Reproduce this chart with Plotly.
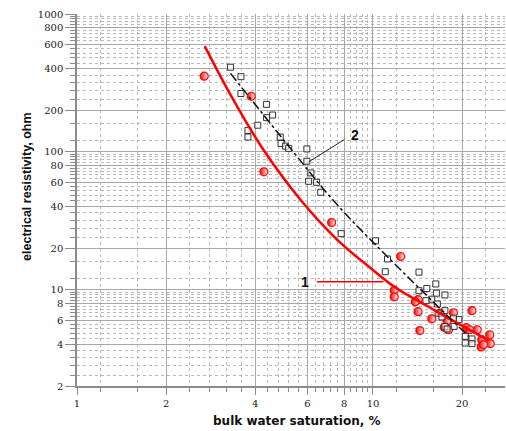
import math
import plotly.graph_objects as go

# Core samples, bulk water saturation (%) vs electrical resistivity (ohm)
sat_open = [3.30, 3.58, 3.58, 4.37, 4.58, 4.37, 4.08, 3.78, 3.78, 4.86, 4.89, 5.06,
            5.19, 5.98, 5.98, 6.17, 6.06, 6.45, 6.66, 7.81, 10.2, 11.2, 11.0, 14.3,
            14.3, 15.2, 16.3, 16.4, 17.5, 15.8, 15.1, 16.5, 17.5, 16.6, 17.1, 19.5,
            18.7, 17.5, 17.8, 18.8, 20.5, 21.6, 20.5, 21.6]
res_open = [411, 351, 265, 221, 185, 177, 156, 143, 128, 128, 115, 110,
            106, 105, 85.5, 70.3, 61.1, 60.1, 50.9, 25.5, 22.6, 16.7, 13.5, 13.4,
            9.83, 10.2, 11.0, 9.43, 9.15, 8.53, 8.32, 7.87, 7.04, 6.75, 6.34, 6.06,
            6.21, 5.41, 5.18, 5.41, 4.58, 4.39, 4.10, 4.06]

sat_half = [2.69, 3.88, 4.28, 7.25, 12.4, 11.8, 11.8, 14.2, 13.9, 14.2, 16.9, 18.7,
            21.6, 15.8, 17.8, 14.4, 17.4, 18.0, 20.7, 21.2, 22.5, 24.8, 23.3, 23.2,
            24.9, 23.6]
res_half = [354, 253, 71.6, 30.7, 17.4, 9.92, 8.87, 8.46, 8.18, 6.92, 6.77, 6.80,
            7.04, 6.14, 5.93, 5.05, 5.33, 5.12, 5.30, 5.12, 5.12, 4.71, 4.34, 3.84,
            4.06, 3.99]

# Curve 1 (solid red) and curve 2 (dash-dot black)
curve1_sat = [2.70, 3.35, 4.22, 5.68, 7.56, 9.79, 11.8, 16.0, 24.5]
curve1_res = [585, 245, 107, 45.1, 23.1, 14.4, 10.5, 7.17, 4.3]
curve2_sat = [3.30, 5.19, 7.56, 11.3, 21.0]
curve2_res = [371, 110, 41.4, 17.0, 4.6]

# Axis ticks
x_major = [1, 2, 4, 6, 8, 10, 20]
y_major = [2, 4, 6, 8, 10, 20, 40, 60, 80, 100, 200, 400, 600, 800, 1000]


def minor_steps(lo, hi):
    vals = []
    for dec in (1, 10, 100):
        for k in range(3, 25):
            v = round(0.4 * k * dec, 6)
            if lo < v < hi and v not in x_major + y_major and v != 10 * dec and v != dec:
                vals.append(v)
    return sorted(set(vals))


x_minor = minor_steps(1, 28)
y_minor = minor_steps(2, 1000)

fig = go.Figure()

# half-filled circles: red on the left fading to white on the right
fig.add_trace(go.Scatter(
    x=sat_half, y=res_half, mode="markers",
    marker=dict(symbol="circle", size=8, color="#ff0000",
                gradient=dict(type="horizontal", color="#ffffff"),
                line=dict(color="#ff0000", width=1.2)),
    showlegend=False))

fig.add_trace(go.Scatter(
    x=sat_open, y=res_open, mode="markers",
    marker=dict(symbol="square", size=6, color="rgba(255,255,255,0.6)",
                line=dict(width=1, color="#333333")),
    showlegend=False))

fig.add_trace(go.Scatter(
    x=curve1_sat, y=curve1_res, mode="lines",
    line=dict(color="#ff0000", width=2.5, shape="spline"),
    showlegend=False))

fig.add_trace(go.Scatter(
    x=curve2_sat, y=curve2_res, mode="lines",
    line=dict(color="#111111", width=1.5, dash="dashdot", shape="spline"),
    showlegend=False))

# leader lines for the curve labels
fig.add_trace(go.Scatter(x=[8.0, 6.06], y=[122.7, 84.5], mode="lines",
                         line=dict(color="#222222", width=1), showlegend=False))
fig.add_trace(go.Scatter(x=[6.47, 10.85], y=[11.4, 11.4], mode="lines",
                         line=dict(color="#ff0000", width=1.5), showlegend=False))

fig.add_annotation(x=math.log10(8.71), y=math.log10(132), text="<b>2</b>",
                   showarrow=False, font=dict(family="Liberation Sans", size=14, color="#111"))
fig.add_annotation(x=math.log10(5.87), y=math.log10(11.3), text="<b>1</b>",
                   showarrow=False, font=dict(family="Liberation Sans", size=14, color="#111"))

fig.add_annotation(xref="paper", yref="paper", x=-0.117, y=0.535,
                   text="<b>electrical resistivity, ohm</b>", textangle=-90,
                   showarrow=False, xanchor="center", yanchor="middle",
                   font=dict(family="Liberation Sans", size=12.5, color="#111"))
fig.add_annotation(xref="paper", yref="paper", x=0.515, y=-0.094,
                   text="<b>bulk water saturation, %</b>",
                   showarrow=False, xanchor="center", yanchor="middle",
                   font=dict(family="DejaVu Sans", size=12, color="#111"))

axis_common = dict(
    type="log", showline=True, linecolor="#8c8c8c", linewidth=1.5,
    showgrid=True, gridcolor="#a8a8a8", gridwidth=1, zeroline=False,
    ticks="outside", tickcolor="#8c8c8c", tickwidth=1,
    tickfont=dict(family="DejaVu Serif", size=10, color="#222"),
)

fig.update_xaxes(**axis_common, range=[0, 1.446], tickvals=x_major,
                 ticktext=[str(v) for v in x_major], ticklen=7,
                 minor=dict(tickvals=x_minor, ticks="outside", ticklen=4,
                            tickcolor="#8c8c8c", showgrid=True,
                            gridcolor="#b8b8b8", griddash="dot", gridwidth=1))
fig.update_yaxes(**axis_common, range=[math.log10(2), 3], tickvals=y_major,
                 ticktext=[str(v) for v in y_major], ticklen=10,
                 minor=dict(tickvals=y_minor, ticks="outside", ticklen=5,
                            tickcolor="#8c8c8c", showgrid=True,
                            gridcolor="#b8b8b8", griddash="dot", gridwidth=1))

fig.update_layout(width=506, height=431, margin=dict(l=77, r=1, t=14, b=45),
                  paper_bgcolor="white", plot_bgcolor="white")

fig.write_html("out.html")
